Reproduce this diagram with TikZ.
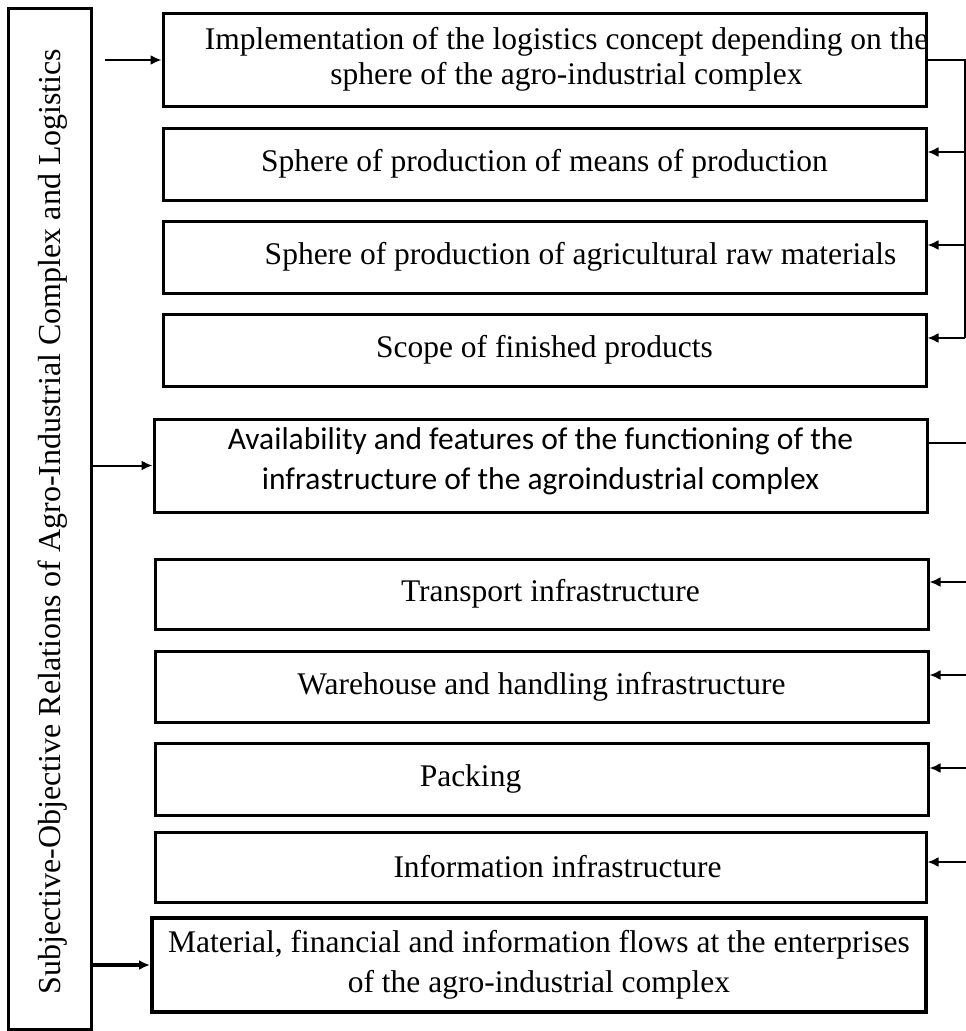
\documentclass[tikz,border=0pt]{standalone}
\usepackage{fontspec}
\setmainfont{Liberation Serif}
\newfontfamily\calib{Carlito}
\usetikzlibrary{arrows.meta}

\begin{document}
\begin{tikzpicture}[x=1pt,y=-1pt,
  box/.style={draw,line width=3pt,minimum width=763pt,minimum height=72pt,inner sep=0pt,
    font=\fontsize{31.5}{35}\selectfont,align=center},
  txt/.style={font=\fontsize{31.5}{35}\selectfont,align=center},
  arr/.style={line width=2pt,-{Latex[length=11pt,width=10pt]}},
  ln/.style={line width=2pt}]
\useasboundingbox (0,0) rectangle (966,1031);
\node [draw,line width=3pt,minimum width=83pt,minimum height=1021pt,inner sep=0pt] (l) at (49.5,518.5) {};
\node [txt,font=\fontsize{32}{36}\selectfont,rotate=90] (lt) at ([xshift=3pt,yshift=-3pt]l.center) {Subjective-Objective Relations of Agro-Industrial Complex and Logistics};
\node [box,minimum height=93pt,label={[txt,xshift=22pt]center:Implementation of the logistics concept depending on the\\sphere of the agro-industrial complex}] (b1) at (544.5,59.5) {};
\node [box] (b2) at (544.5,164) {Sphere of production of means of production};
\node [box,label={[txt,xshift=36pt]center:Sphere of production of agricultural raw materials}] (b3) at (544.5,257) {};
\node [box] (b4) at (544.5,350) {Scope of finished products};
\node [box,minimum width=773pt,minimum height=93pt,label={[txt,font=\calib\fontsize{31.5}{40}\selectfont,yshift=4pt]center:Availability and features of the functioning of the\\infrastructure of the agroindustrial complex}] (b5) at (540.5,465.5) {};
\node [box,minimum width=773pt,minimum height=70pt,label={[txt,xshift=9pt]center:Transport infrastructure}] (b6) at (541.5,594) {};
\node [box,minimum width=773pt,minimum height=71pt] (b7) at (541.5,686.5) {Warehouse and handling infrastructure};
\node [box,minimum width=773pt,label={[txt,xshift=-71pt]center:Packing}] (b8) at (541.5,779) {};
\node [box,minimum width=771pt,minimum height=70pt,label={[txt,xshift=17pt]center:Information infrastructure}] (b9) at (540.5,867) {};
\node [box,line width=4pt,minimum width=774pt,minimum height=94pt,font=\fontsize{31.5}{40}\selectfont] (b10) at (539,965) {Material, financial and information flows at the enterprises\\of the agro-industrial complex};
\coordinate (s1) at (105,60);
\coordinate (r1) at (965,59.5);
\coordinate (r2) at (966,0);
\coordinate (r4) at ([yshift=12pt]b4.east -| r1);
\draw [arr] (s1) -- (s1 -| b1.west);
\draw [arr] (b5.west -| l.east) -- (b5.west);
\draw [arr,line width=3.5pt] (b10.west -| l.east) -- (b10.west);
\draw [ln] (b1.east) -- (r1) -- (r4);
\foreach \b in {b2,b3,b4}
  \draw [arr] ([yshift=12pt]\b.east -| r1) -- ([yshift=12pt]\b.east);
\draw [ln] ([yshift=23pt]b5.east) -- ([yshift=23pt]b5.east -| r2);
\foreach \b/\d in {b6/12,b7/11.5,b8/11,b9/5}
  \draw [arr] ([yshift=\d pt]\b.east -| r2) -- ([yshift=\d pt]\b.east);
\end{tikzpicture}
\end{document}
